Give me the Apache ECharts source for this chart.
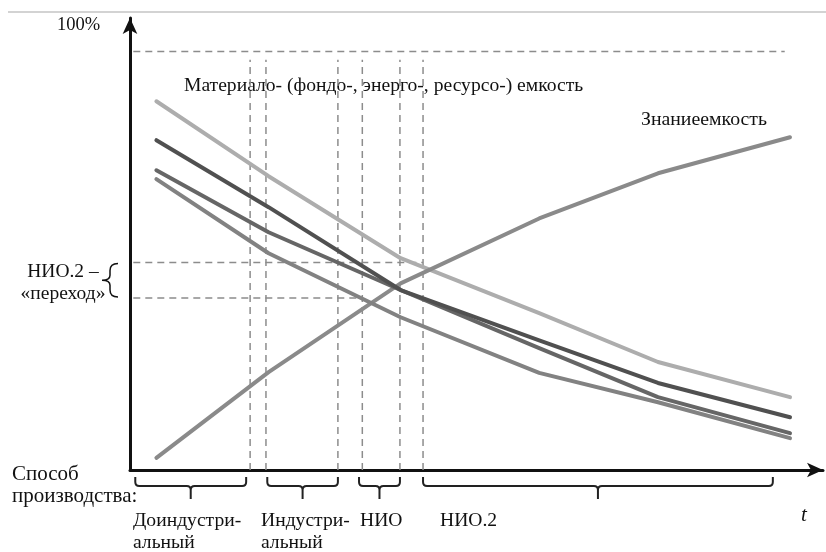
<!DOCTYPE html>
<html>
<head>
<meta charset="utf-8">
<script src="https://cdn.jsdelivr.net/npm/echarts@6/dist/echarts.min.js"></script>
<style>
  html, body { margin: 0; padding: 0; background: #fff; }
  #chart { width: 826px; height: 552px; }
</style>
</head>
<body>
<div id="chart"></div>
<script>
// time points (t) where the curves bend
const tPoints = [4, 21, 41, 62, 80, 100];

// material / capital / energy / resource intensity curves (% of max)
const matLight = [88.1, 70.2, 50.6, 37.5, 25.8, 17.4];
const matDark = [78.8, 62.8, 43.0, 31.0, 20.8, 12.6];
const matMid = [71.6, 56.8, 43.0, 29.1, 17.4, 8.8];
const matGray = [69.5, 51.8, 36.5, 23.2, 16.2, 7.6];
// knowledge intensity
const knowledge = [2.9, 23.4, 44.6, 60.1, 70.9, 79.5];

// guide lines
const topLevel = 100;
const transitionLevels = [49.6, 41.1];
const transitionEnds = [44.4, 35.2];
const periodBounds = [18.2, 20.6, 31.5, 35.2, 40.9, 44.4];
const periodTop = 98;

// modes of production (braces under the t axis)
const periods = [[0.8, 17.6], [20.8, 31.5], [34.7, 40.9], [44.4, 97.4]];
const periodNames = ["Доиндустри-\nальный", "Индустри-\nальный", "НИО", "НИО.2"];

const serif = "Liberation Serif";
const dash = { color: "#8c8c8c", width: 1.5, type: [7, 5] };

function pairs(ys) {
  return tPoints.map((t, i) => [t, ys[i]]);
}

function curve(data, color) {
  return {
    type: "line",
    data: pairs(data),
    showSymbol: false,
    silent: true,
    lineStyle: { color: color, width: 4, cap: "round", join: "round" },
    z: 3
  };
}

function dashed(data) {
  return {
    type: "line",
    data: data,
    showSymbol: false,
    silent: true,
    lineStyle: dash,
    z: 1
  };
}

const guideSeries = [dashed([[0.5, topLevel], [99.2, topLevel]])];
transitionLevels.forEach((v, i) => {
  guideSeries.push(dashed([[0.5, v], [transitionEnds[i], v]]));
});
periodBounds.forEach(x => {
  guideSeries.push(dashed([[x, 0], [x, periodTop]]));
});

// horizontal braces under the t axis
const braceSeries = {
  type: "custom",
  silent: true,
  clip: false,
  data: periods,
  renderItem(params, api) {
    const a = api.coord([api.value(0), 0]);
    const b = api.coord([api.value(1), 0]);
    const x1 = a[0], x2 = b[0], xc = (x1 + x2) / 2;
    const y0 = a[1] + 7, y1 = a[1] + 16, y2 = a[1] + 29;
    const d =
      "M" + x1 + "," + y0 + " L" + x1 + "," + (y1 - 4) +
      " Q" + x1 + "," + y1 + " " + (x1 + 4) + "," + y1 +
      " L" + (xc - 4) + "," + y1 +
      " Q" + xc + "," + y1 + " " + xc + "," + (y1 + 4) +
      " L" + xc + "," + y2 +
      " M" + xc + "," + (y1 + 4) +
      " Q" + xc + "," + y1 + " " + (xc + 4) + "," + y1 +
      " L" + (x2 - 4) + "," + y1 +
      " Q" + x2 + "," + y1 + " " + x2 + "," + (y1 - 4) +
      " L" + x2 + "," + y0;
    return {
      type: "path",
      shape: { pathData: d },
      style: { stroke: "#222", lineWidth: 2, fill: null }
    };
  }
};

// vertical curly brace left of the y axis, spanning the transition band
const sideBrace = {
  type: "custom",
  silent: true,
  clip: false,
  data: [transitionLevels],
  renderItem(params, api) {
    const top = api.coord([0, api.value(0)]);
    const bot = api.coord([0, api.value(1)]);
    const xr = top[0] - 12, xm = xr - 8, xt = xr - 16;
    const y0 = top[1] + 1, y3 = bot[1] - 1, ym = (y0 + y3) / 2;
    const d =
      "M" + xr + "," + y0 +
      " C" + (xr - 6) + "," + y0 + " " + xm + "," + (y0 + 3) + " " + xm + "," + (y0 + 7) +
      " L" + xm + "," + (ym - 5) +
      " C" + xm + "," + (ym - 2) + " " + (xm - 3) + "," + ym + " " + xt + "," + ym +
      " C" + (xm - 3) + "," + ym + " " + xm + "," + (ym + 2) + " " + xm + "," + (ym + 5) +
      " L" + xm + "," + (y3 - 7) +
      " C" + xm + "," + (y3 - 3) + " " + (xr - 6) + "," + y3 + " " + xr + "," + y3;
    return {
      type: "path",
      shape: { pathData: d },
      style: { stroke: "#111", lineWidth: 1.5, fill: null }
    };
  }
};

function txt(size, extra) {
  return Object.assign({ fill: "#111", font: size + "px " + serif }, extra);
}
const periodLefts = [133, 261, 360, 440];

const graphic = [
  { type: "line", shape: { x1: 8, y1: 12, x2: 826, y2: 12 }, style: { stroke: "#c4c4c4", lineWidth: 1.5 }, silent: true },
  { type: "text", x: 57, y: 16, style: txt(18.5, { text: "100%" }) },
  { type: "text", x: 63, y: 261, style: txt(19.5, { text: "НИО.2 –\n«переход»", textAlign: "center", lineHeight: 22 }) },
  { type: "text", x: 184, y: 76, style: txt(19.6, { text: "Материало- (фондо-, энерго-, ресурсо-) емкость" }) },
  { type: "text", x: 641, y: 110, style: txt(19.8, { text: "Знаниеемкость" }) },
  { type: "text", x: 12, y: 463, style: txt(21, { text: "Способ\nпроизводства:", lineHeight: 22 }) },
  { type: "text", x: 801, y: 505, style: { text: "t", fill: "#111", font: "italic 21px " + serif } }
];
periodNames.forEach((name, i) => {
  graphic.push({
    type: "text",
    x: periodLefts[i],
    y: 510,
    style: txt(19.6, { text: name, lineHeight: 22 })
  });
});

const chart = echarts.init(document.getElementById("chart"));
chart.setOption({
  animation: false,
  backgroundColor: "#fff",
  grid: { left: 130, right: 3, top: 18, bottom: 82 },
  xAxis: {
    type: "value",
    min: 0,
    max: 105,
    axisLine: { show: true, lineStyle: { color: "#111", width: 3 }, symbol: ["none", "arrow"], symbolSize: [11, 16] },
    axisTick: { show: false },
    axisLabel: { show: false },
    splitLine: { show: false }
  },
  yAxis: {
    type: "value",
    min: 0,
    max: 108,
    axisLine: { show: true, lineStyle: { color: "#111", width: 3 }, symbol: ["none", "arrow"], symbolSize: [11, 16] },
    axisTick: { show: false },
    axisLabel: { show: false },
    splitLine: { show: false }
  },
  series: guideSeries.concat([
    curve(matLight, "#adadad"),
    curve(knowledge, "#8a8a8a"),
    curve(matGray, "#828282"),
    curve(matMid, "#666666"),
    curve(matDark, "#505050"),
    braceSeries,
    sideBrace
  ]),
  graphic: graphic
});
</script>
</body>
</html>
